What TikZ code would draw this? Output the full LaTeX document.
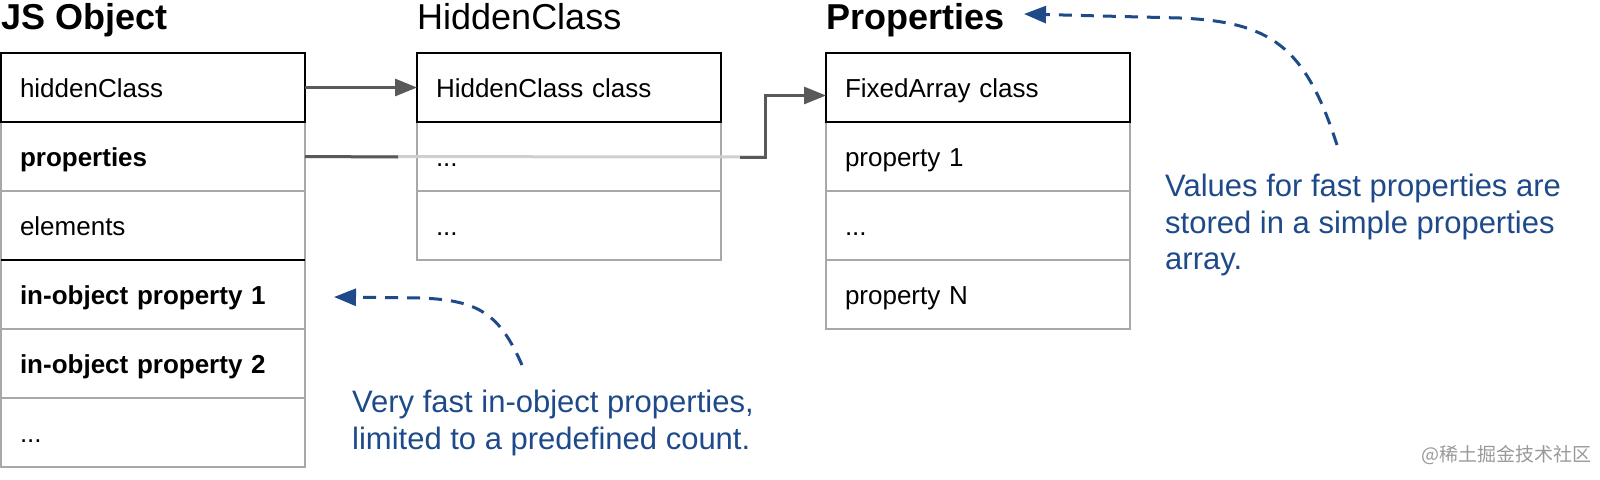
\documentclass[tikz,border=0pt]{standalone}
\usepackage{fontspec}
\setmainfont{Liberation Sans}
\newfontfamily\cjk{Noto Sans CJK SC}
\usepackage{xcolor}
\usepackage{tikz}
\usetikzlibrary{positioning,arrows.meta}
\definecolor{linkgray}{HTML}{58595B}
\definecolor{fadegray}{HTML}{CFCFCF}
\definecolor{rowgray}{HTML}{A8A8A8}
\definecolor{noteblue}{HTML}{1F4A8A}

\begin{document}
\begin{tikzpicture}[x=1pt,y=-1pt,
            row/.style={rectangle, draw=rowgray, line width=1.5pt, outer sep=0pt, inner xsep=19pt, inner ysep=0pt,
                text width=266pt, minimum height=69pt, align=left, text height=19pt, text depth=0pt,
                font=\fontsize{26}{31}\selectfont},
            boldrow/.style={row, font=\fontsize{26}{31}\selectfont\bfseries},
            title/.style={anchor=base west, inner sep=0pt, font=\fontsize{36}{40}\selectfont},
            edge/.style={draw=black, line width=2pt},
            link/.style={linkgray, line width=3pt},
            fade/.style={fadegray, line width=3pt},
            tip/.style={-{Triangle[length=22pt, width=17pt]}},
            note/.style={noteblue, line width=3pt, dash pattern=on 13pt off 9pt, -{Triangle[length=22pt, width=17pt]}},
            notetext/.style={anchor=north west, inner sep=0pt, text=noteblue, align=left, font=\fontsize{31}{36.5}\selectfont}]
            \useasboundingbox (0,0) rectangle (1600,479);
            \node[title, font=\fontsize{36}{40}\selectfont\bfseries] (objT) at (1,29) {JS Object};
            \node[title] (hcT) at (417,29) {HiddenClass};
            \node[title, font=\fontsize{36}{40}\selectfont\bfseries] (prT) at (826,29) {Properties};
            \node[row, anchor=north west] (obj1) at (1,53) {hiddenClass};
            \node[boldrow, below=0pt of obj1] (obj2) {properties};
            \node[row, below=0pt of obj2] (obj3) {elements};
            \node[boldrow, below=0pt of obj3] (obj4) {in-object property 1};
            \node[boldrow, below=0pt of obj4] (obj5) {in-object property 2};
            \node[row, below=0pt of obj5] (obj6) {...};
            \node[row, anchor=north west] (hc1) at (417,53) {HiddenClass class};
            \node[row, below=0pt of hc1] (hc2) {...};
            \node[row, below=0pt of hc2] (hc3) {...};
            \node[row, anchor=north west] (pr1) at (826,53) {FixedArray class};
            \node[row, below=0pt of pr1] (pr2) {property 1};
            \node[row, below=0pt of pr2] (pr3) {...};
            \node[row, below=0pt of pr3] (pr4) {property N};
            \draw[edge] (obj1.north west) rectangle (obj1.south east);
            \draw[edge] (obj4.north west) -- (obj4.north east);
            \draw[edge] (hc1.north west) rectangle (hc1.south east);
            \draw[edge] (pr1.north west) rectangle (pr1.south east);
            \draw[link, tip] (obj1.east) -- (hc1.west);
            \coordinate (fadeA) at (398,157);
            \coordinate (fadeB) at (740,157);
            \coordinate (bend) at (765,157);
            \draw[fade] (obj2.east) -- (bend);
            \draw[link] (obj2.east) -- (fadeA);
            \draw[link, tip] (fadeB) -- (bend) |- ([yshift=-8pt]pr1.west);
            \node[notetext] (noteP) at (1165,174) {Values for fast properties are\\stored in a simple properties\\array.};
            \node[notetext] (noteO) at (352,390) {Very fast in-object properties,\\limited to a predefined count.};
            \coordinate (startP) at (1337,145);
            \coordinate (endP) at (1024,14);
            \coordinate (startO) at (522,365);
            \coordinate (endO) at (334,297);
            \draw[note] (startP) .. controls (1305,45) and (1270,22) .. (1180,18) -- (endP);
            \draw[note] (startO) .. controls (500,315) and (480,300) .. (420,298) -- (endO);
            \node[anchor=east, inner sep=0pt, text=black!40, font=\cjk\fontsize{19}{22}\selectfont] (mark) at (1592,455) {@稀土掘金技术社区};
        \end{tikzpicture}
\end{document}
